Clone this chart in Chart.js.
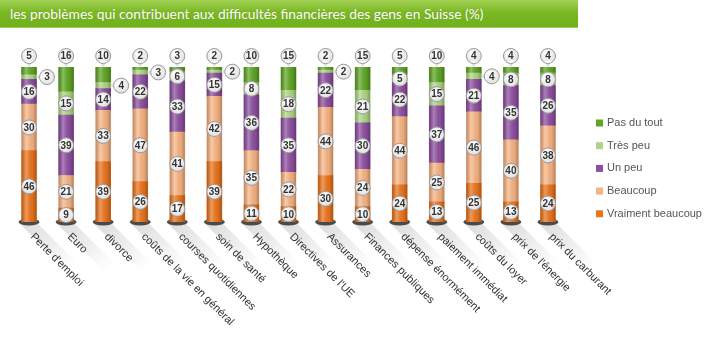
<!DOCTYPE html>
<html>
<head>
<meta charset="utf-8">
<script src="https://cdn.jsdelivr.net/npm/chart.js@4"></script>
<style>
  body { margin: 0; background: #fff; }
  #wrap { position: relative; width: 710px; height: 348px; }
  #title {
    position: absolute; left: 0; top: 0; width: 578px; height: 28px;
    background: linear-gradient(#a2d153, #7ab824 45%, #70b01b);
    border-bottom: 1px solid #9ccc5a;
    color: #fff; font: 13.8px Lato, sans-serif; line-height: 27px;
    padding-left: 10px; box-sizing: border-box; white-space: nowrap;
    text-shadow: 0 0 1px rgba(0,0,0,0.2);
  }
  canvas { position: absolute; left: 0; top: 0; }
</style>
</head>
<body>
<div id="wrap">
  <canvas id="chart" width="710" height="348"></canvas>
  <div id="title">les problèmes qui contribuent aux difficultés financières des gens en Suisse (%)</div>
</div>
<script>
const categories = ["Perte d'emploi", "Euro", "divorce", "coûts de la vie en général", "courses quotidiennes",
  "soin de santé", "Hypothèque", "Directives de l'UE", "Assurances", "Finances publiques",
  "dépense énormément", "paiement immédiat", "coûts du loyer", "prix de l'énergie", "prix du carburant"];

const pasDuTout = [5, 16, 10, 2, 3, 2, 10, 15, 2, 15, 5, 10, 4, 4, 4];
const tresPeu   = [3, 15, 4, 3, 6, 2, 8, 18, 2, 21, 5, 15, 4, 8, 8];
const unPeu     = [16, 39, 14, 22, 33, 15, 36, 35, 22, 30, 22, 37, 21, 35, 26];
const beaucoup  = [30, 21, 33, 47, 41, 42, 35, 22, 44, 24, 44, 25, 46, 40, 38];
const vraiment  = [46, 9, 39, 26, 17, 39, 11, 10, 30, 10, 24, 13, 25, 13, 24];

const seriesNames = ["Vraiment beaucoup", "Beaucoup", "Un peu", "Très peu", "Pas du tout"];
const seriesColors = ["#e8741e", "#f6b383", "#8d4f9f", "#aed585", "#5fa526"];
const seriesData = [vraiment, beaucoup, unPeu, tresPeu, pasDuTout];

// bubble with a number in it, pointer optional
function bubble(ctx, x, y, text, pointer) {
  ctx.save();
  ctx.strokeStyle = "#9a9a9a";
  ctx.lineWidth = 1;
  ctx.beginPath();
  ctx.arc(x, y, 7.5, 0, Math.PI * 2);
  if (pointer === "down") {
    ctx.moveTo(x - 4, y + 5);
    ctx.lineTo(x, y + 11);
    ctx.lineTo(x + 4, y + 5);
  } else if (pointer === "left") {
    ctx.moveTo(x - 5, y - 4);
    ctx.lineTo(x - 11, y);
    ctx.lineTo(x - 5, y + 4);
  }
  const g = ctx.createRadialGradient(x - 2, y - 3, 1, x, y, 9);
  g.addColorStop(0, "#ffffff");
  g.addColorStop(1, "#dcdcdc");
  ctx.fillStyle = g;
  ctx.fill();
  ctx.beginPath();
  ctx.arc(x, y, 7.5, 0, Math.PI * 2);
  ctx.stroke();
  ctx.fillStyle = "#333";
  ctx.font = "bold 10px 'Liberation Sans', Arial, sans-serif";
  ctx.textAlign = "center";
  ctx.textBaseline = "middle";
  ctx.fillText(text, x, y + 0.5);
  ctx.restore();
}

const decorPlugin = {
  id: "decor",
  beforeDatasetsDraw(chart) {
    const ctx = chart.ctx;
    const meta = chart.getDatasetMeta(0);
    meta.data.forEach((el, j) => {
      const cx = el.x, by = el.base;
      // label shadow band
      ctx.save();
      const g = ctx.createLinearGradient(cx, by, cx + 45, by + 45);
      g.addColorStop(0, "rgba(0,0,0,0.13)");
      g.addColorStop(1, "rgba(0,0,0,0)");
      ctx.fillStyle = g;
      ctx.beginPath();
      ctx.moveTo(cx - 9, by + 2);
      ctx.lineTo(cx + 9, by + 2);
      ctx.lineTo(cx + 59, by + 52);
      ctx.lineTo(cx + 41, by + 52);
      ctx.closePath();
      ctx.fill();
      // base ellipse
      ctx.fillStyle = "#4a4a4a";
      ctx.beginPath();
      ctx.ellipse(cx, by, 10.5, 3.5, 0, 0, Math.PI * 2);
      ctx.fill();
      ctx.restore();
    });
  },
  afterDatasetsDraw(chart) {
    const ctx = chart.ctx;
    const n = chart.data.datasets.length;
    const bottom = chart.getDatasetMeta(0).data;
    const top = chart.getDatasetMeta(n - 1).data;
    // cylinder shading
    bottom.forEach((el, j) => {
      const w = el.width, x0 = el.x - w / 2;
      const yTop = top[j].y, yBot = el.base;
      const g = ctx.createLinearGradient(x0, 0, x0 + w, 0);
      g.addColorStop(0, "rgba(0,0,0,0.22)");
      g.addColorStop(0.3, "rgba(255,255,255,0.28)");
      g.addColorStop(0.45, "rgba(255,255,255,0.12)");
      g.addColorStop(0.75, "rgba(0,0,0,0.05)");
      g.addColorStop(1, "rgba(0,0,0,0.28)");
      ctx.save();
      ctx.fillStyle = g;
      ctx.fillRect(x0, yTop, w, yBot - yTop);
      ctx.restore();
    });
    // value bubbles
    chart.data.datasets.forEach((ds, i) => {
      const meta = chart.getDatasetMeta(i);
      meta.data.forEach((el, j) => {
        const v = ds.data[j];
        const yc = (el.y + el.base) / 2;
        if (i === n - 1) {
          bubble(ctx, el.x, el.y - 11, String(v), "down");
        } else if (v <= 4) {
          bubble(ctx, el.x + 18, yc, String(v), "left");
        } else {
          bubble(ctx, el.x, yc, String(v));
        }
      });
    });
    // category labels
    ctx.save();
    ctx.fillStyle = "#333";
    ctx.font = "11px 'Liberation Sans', Arial, sans-serif";
    ctx.textAlign = "left";
    ctx.textBaseline = "middle";
    bottom.forEach((el, j) => {
      ctx.save();
      ctx.translate(el.x + 3, el.base + 13);
      ctx.rotate(Math.PI / 4);
      ctx.fillText(categories[j], 0, 0);
      ctx.restore();
    });
    ctx.restore();
    // legend
    ctx.save();
    ctx.font = "11px 'Liberation Sans', Arial, sans-serif";
    ctx.textBaseline = "middle";
    ctx.textAlign = "left";
    for (let k = 0; k < n; k++) {
      const idx = n - 1 - k;
      const y = 123 + k * 22.7;
      ctx.fillStyle = seriesColors[idx];
      ctx.fillRect(596, y - 3.5, 7, 7);
      ctx.fillStyle = "#555";
      ctx.fillText(chart.data.datasets[idx].label, 607, y);
    }
    ctx.restore();
  }
};

new Chart(document.getElementById("chart"), {
  type: "bar",
  data: {
    labels: categories,
    datasets: seriesNames.map((name, i) => ({
      label: name,
      data: seriesData[i],
      backgroundColor: seriesColors[i],
      borderWidth: 0,
      barThickness: 15
    }))
  },
  options: {
    responsive: false,
    animation: false,
    layout: { padding: { left: 10.5, right: 143.5, top: 67, bottom: 126 } },
    plugins: { legend: { display: false }, tooltip: { enabled: false }, title: { display: false } },
    scales: {
      x: { stacked: true, display: false },
      y: { stacked: true, display: false, min: 0, max: 100 }
    }
  },
  plugins: [decorPlugin]
});
</script>
</body>
</html>
